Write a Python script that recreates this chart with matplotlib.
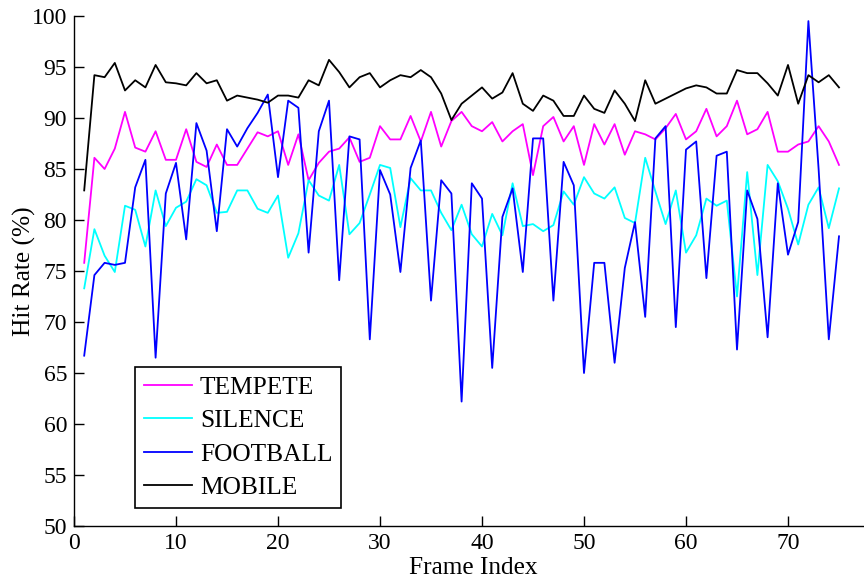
import numpy as np
import matplotlib
matplotlib.use("Agg")
import matplotlib.pyplot as plt

frames = list(range(1, 76))

tempete = [75.8, 86.1, 85.0, 87.0, 90.6, 87.1, 86.7, 88.7, 85.9, 85.9,
           88.9, 85.7, 85.2, 87.4, 85.4, 85.4, 87.0, 88.6, 88.2, 88.7,
           85.4, 88.4, 83.9, 85.6, 86.7, 87.0, 88.1, 85.7, 86.1, 89.2,
           87.9, 87.9, 90.2, 87.7, 90.6, 87.2, 89.7, 90.6, 89.2, 88.7,
           89.6, 87.7, 88.7, 89.4, 84.4, 89.2, 90.1, 87.7, 89.2, 85.4,
           89.4, 87.4, 89.4, 86.4, 88.7, 88.4, 87.9, 89.0, 90.4, 87.9,
           88.7, 90.9, 88.2, 89.2, 91.7, 88.4, 88.9, 90.6, 86.7, 86.7,
           87.4, 87.7, 89.2, 87.7, 85.4]

silence = [73.3, 79.1, 76.5, 74.9, 81.4, 81.0, 77.4, 82.9, 79.4, 81.2,
           81.8, 84.0, 83.4, 80.7, 80.8, 82.9, 82.9, 81.1, 80.7, 82.4,
           76.3, 78.7, 83.9, 82.4, 81.9, 85.4, 78.6, 79.7, 82.5, 85.4,
           85.1, 79.3, 84.1, 82.9, 82.9, 80.7, 79.0, 81.5, 78.6, 77.4,
           80.6, 78.5, 83.6, 79.4, 79.6, 78.9, 79.5, 82.8, 81.5, 84.2,
           82.6, 82.1, 83.2, 80.2, 79.7, 86.1, 82.8, 79.6, 82.9, 76.8,
           78.5, 82.1, 81.4, 81.9, 72.5, 84.7, 74.6, 85.4, 83.8, 81.1,
           77.6, 81.5, 83.2, 79.2, 83.1]

football = [66.7, 74.6, 75.8, 75.6, 75.8, 83.2, 85.9, 66.5, 82.6, 85.6,
            78.1, 89.5, 86.8, 78.9, 88.9, 87.2, 89.0, 90.5, 92.3, 84.2,
            91.7, 91.0, 76.8, 88.7, 91.7, 74.1, 88.2, 87.9, 68.3, 84.9,
            82.5, 74.9, 85.1, 87.8, 72.1, 83.9, 82.6, 62.2, 83.6, 82.1,
            65.5, 80.3, 83.1, 74.9, 88.0, 88.0, 72.1, 85.7, 83.4, 65.0,
            75.8, 75.8, 66.0, 75.3, 79.8, 70.5, 88.0, 89.2, 69.5, 86.9,
            87.7, 74.3, 86.3, 86.7, 67.3, 82.9, 80.1, 68.5, 83.6, 76.6,
            79.8, 99.5, 85.0, 68.3, 78.4]

mobile = [82.9, 94.2, 94.0, 95.4, 92.7, 93.7, 93.0, 95.2, 93.5, 93.4,
          93.2, 94.4, 93.4, 93.7, 91.7, 92.2, 92.0, 91.8, 91.5, 92.2,
          92.2, 92.0, 93.7, 93.2, 95.7, 94.5, 93.0, 94.0, 94.4, 93.0,
          93.7, 94.2, 94.0, 94.7, 94.0, 92.4, 89.8, 91.4, 92.2, 93.0,
          91.9, 92.5, 94.4, 91.4, 90.7, 92.2, 91.7, 90.2, 90.2, 92.2,
          90.9, 90.5, 92.7, 91.4, 89.7, 93.7, 91.4, 91.9, 92.4, 92.9,
          93.2, 93.0, 92.4, 92.4, 94.7, 94.4, 94.4, 93.4, 92.2, 95.2,
          91.4, 94.2, 93.5, 94.2, 93.0]

series_names = ["TEMPETE", "SILENCE", "FOOTBALL", "MOBILE"]
series_colors = ["#ff00ff", "#00ffff", "#0000ff", "#000000"]
xticks = list(range(0, 71, 10))
yticks = list(range(50, 101, 5))

plt.rcParams['font.family'] = ['Liberation Serif', 'DejaVu Serif']
FS_TICK = 17
FS_LABEL = 18.3

W, H = 864, 582
fig = plt.figure(figsize=(W / 100, H / 100), dpi=100)
ax = fig.add_axes([74 / W, (H - 526) / H, 816 / W, 510 / H])

for name, vals, col in zip(series_names, [tempete, silence, football, mobile], series_colors):
    ax.plot(frames, vals, color=col, lw=1.3, label=name)

ax.set_xlim(0, 80)
ax.set_ylim(50, 100)
ax.set_xticks(xticks)
ax.set_yticks(yticks)
ax.tick_params(direction='in', length=7, width=1, labelsize=FS_TICK, pad=5)
ax.spines['top'].set_visible(False)
ax.spines['right'].set_visible(False)
for s in ['left', 'bottom']:
    ax.spines[s].set_linewidth(1.0)

ax.set_xlabel("Frame Index", fontsize=FS_LABEL, labelpad=2)
ax.xaxis.label.set_position(((473 - 74) / 816, 0))
ax.set_ylabel("Hit Rate (%)", fontsize=FS_LABEL, labelpad=-3)

leg = ax.legend(loc='upper left', bbox_to_anchor=(135 / W, 1 - 367 / H),
                bbox_transform=fig.transFigure, fontsize=FS_LABEL, frameon=True,
                fancybox=False, framealpha=1, edgecolor='black',
                handlelength=1.9, handletextpad=0.3, labelspacing=0.42,
                borderpad=0.35, borderaxespad=0)
leg.get_frame().set_linewidth(1.2)

fig.savefig("out.png", dpi=100)
